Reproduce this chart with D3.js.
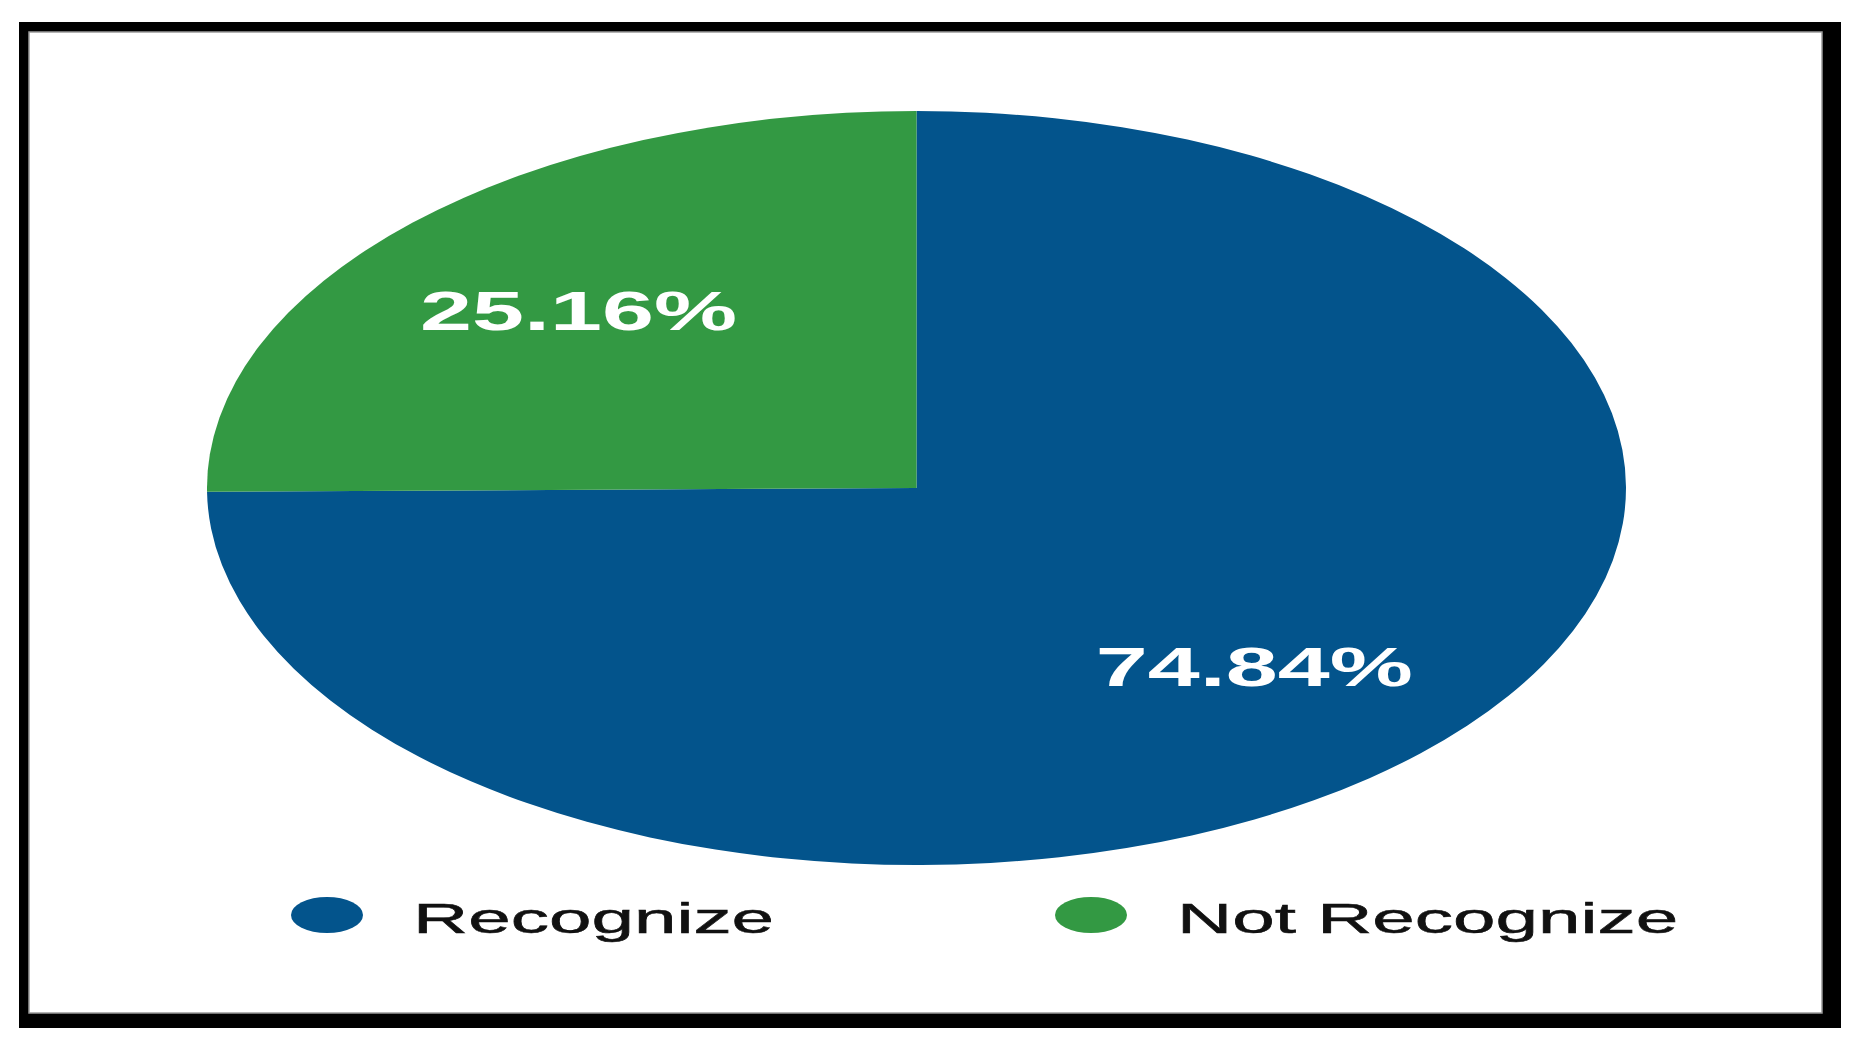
<!DOCTYPE html>
<html>
<head>
<meta charset="utf-8">
<script src="https://cdn.jsdelivr.net/npm/d3@7"></script>
<style>
  html, body { margin: 0; padding: 0; background: #ffffff; }
  svg { display: block; }
</style>
</head>
<body>
<svg id="chart" width="1859" height="1051"></svg>
<script>
// ---- data ----
const categories = ["Recognize", "Not Recognize"];
const values = [74.84, 25.16];
const valueLabels = ["74.84%", "25.16%"];
const colors = ["#03548c", "#339943"];

// ---- layout ----
const W = 1859, H = 1051;
const svg = d3.select("#chart");

// frame
svg.append("rect").attr("x", 19).attr("y", 22).attr("width", 1822).attr("height", 1006).attr("fill", "#000");
svg.append("rect").attr("x", 29).attr("y", 32).attr("width", 1793).attr("height", 981)
  .attr("fill", "#fff").attr("stroke", "#9a9a9a").attr("stroke-width", 1.5);

// pie (drawn as a circle, stretched horizontally like the reference)
const cx = 916.5, cy = 488, ry = 377, rx = 709.5;
const sx = rx / ry;
const textStretch = 1.82;

const pie = d3.pie().sort(null).value(d => d.value);
const arcs = pie(categories.map((c, i) => ({ cat: c, value: values[i], label: valueLabels[i], color: colors[i] })));
const arc = d3.arc().innerRadius(0).outerRadius(ry);
const labelArc = d3.arc().innerRadius(ry * 0.67).outerRadius(ry * 0.67);

const g = svg.append("g").attr("transform", `translate(${cx},${cy}) scale(${sx},1)`);
g.selectAll("path.slice").data(arcs).enter().append("path")
  .attr("class", "slice")
  .attr("d", arc)
  .attr("fill", d => d.data.color);

// value labels (placed in real coordinates, text stretched horizontally)
svg.selectAll("text.val").data(arcs).enter().append("text")
  .attr("class", "val")
  .attr("transform", d => {
    const [lx, ly] = labelArc.centroid(d);
    return `translate(${cx + lx * sx},${cy + ly}) scale(1.67,1)`;
  })
  .attr("text-anchor", "middle")
  .attr("dy", "0.36em")
  .attr("fill", "#ffffff")
  .attr("font-family", "'Liberation Sans', Arial, Helvetica, sans-serif")
  .attr("font-weight", "bold")
  .attr("font-size", 56)
  .text(d => d.data.label);

// legend
const legendX = d3.scalePoint().domain(categories).range([327, 1091]);
const legendY = 915;
const lg = svg.selectAll("g.legend").data(categories).enter().append("g")
  .attr("class", "legend")
  .attr("transform", d => `translate(${legendX(d)},${legendY})`);
lg.append("ellipse")
  .attr("rx", 36).attr("ry", 18)
  .attr("fill", (d, i) => colors[i]);
lg.append("text")
  .attr("transform", `translate(86,18) scale(${textStretch},1)`)
  .attr("fill", "#111")
  .attr("stroke", "#111")
  .attr("stroke-width", 0.5)
  .attr("font-family", "'Liberation Sans', Arial, Helvetica, sans-serif")
  .attr("font-size", 42)
  .text(d => d);
</script>
</body>
</html>
